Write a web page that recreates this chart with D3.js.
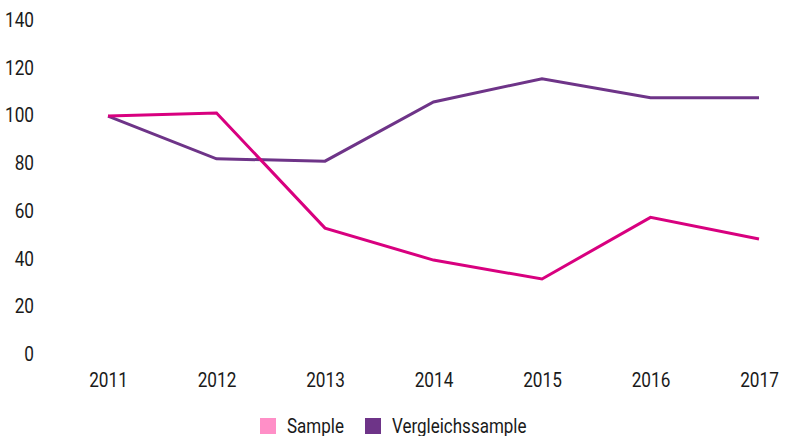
<!DOCTYPE html>
<html>
<head>
<meta charset="utf-8">
<script src="https://cdn.jsdelivr.net/npm/d3@7"></script>
<style>
  body { margin: 0; background: #fff; }
  text { font-family: Roboto, "Liberation Sans", sans-serif; fill: #1a1a1a; }
</style>
</head>
<body>
<svg width="785" height="436"></svg>
<script>
"use strict";

const years = ["2011", "2012", "2013", "2014", "2015", "2016", "2017"];
const sample = [99.6, 100.9, 52.7, 39.3, 31.4, 57.2, 48.1];
const vergleich = [99.6, 81.7, 80.7, 105.5, 115.2, 107.3, 107.3];
const yTicks = [0, 20, 40, 60, 80, 100, 120, 140];
const seriesNames = ["Sample", "Vergleichssample"];

const svg = d3.select("svg");
const squeeze = "scale(0.82,1)"; // fake a condensed face

const xScale = d3.scalePoint()
  .domain(years)
  .range([108, 759]);

const yScale = d3.scaleLinear()
  .domain([0, 140])
  .range([354, 19.5]);

const series = [
  { name: seriesNames[0], values: sample, color: "#d8007f", legend: "#ff8fc7" },
  { name: seriesNames[1], values: vergleich, color: "#6e3488", legend: "#6e3488" }
];

// y labels, no axis line
const yAxisG = svg.append("g")
  .attr("transform", "translate(34,0)")
  .call(d3.axisLeft(yScale).tickValues(yTicks).tickSize(0).tickPadding(0));
yAxisG.select(".domain").remove();
yAxisG.selectAll("text")
  .attr("font-size", 21)
  .attr("font-family", null)
  .attr("fill", null)
  .attr("transform", squeeze);

const xAxisG = svg.append("g")
  .attr("transform", "translate(0,372)")
  .call(d3.axisBottom(xScale).tickSize(0).tickPadding(0));
xAxisG.select(".domain").remove();
xAxisG.selectAll("text")
  .attr("font-size", 21)
  .attr("font-family", null)
  .attr("fill", null)
  .attr("transform", squeeze);

const line = d3.line()
  .x((d, i) => xScale(years[i]))
  .y(d => yScale(d));

// Vergleichssample drawn first, Sample on top
[series[1], series[0]].forEach(s => {
  svg.append("path")
    .datum(s.values)
    .attr("fill", "none")
    .attr("stroke", s.color)
    .attr("stroke-width", 3)
    .attr("stroke-linejoin", "miter")
    .attr("d", line);
});

const legend = svg.append("g").attr("transform", "translate(260,418)");
const legendX = [0, 105];
series.forEach((s, i) => {
  const g = legend.append("g").attr("transform", `translate(${legendX[i]},0)`);
  g.append("rect")
    .attr("width", 16)
    .attr("height", 16)
    .attr("fill", s.legend);
  g.append("g")
    .attr("transform", "translate(27,15)")
    .append("text")
    .attr("font-size", 20)
    .attr("transform", "scale(0.85,1)")
    .text(s.name);
});
</script>
</body>
</html>
